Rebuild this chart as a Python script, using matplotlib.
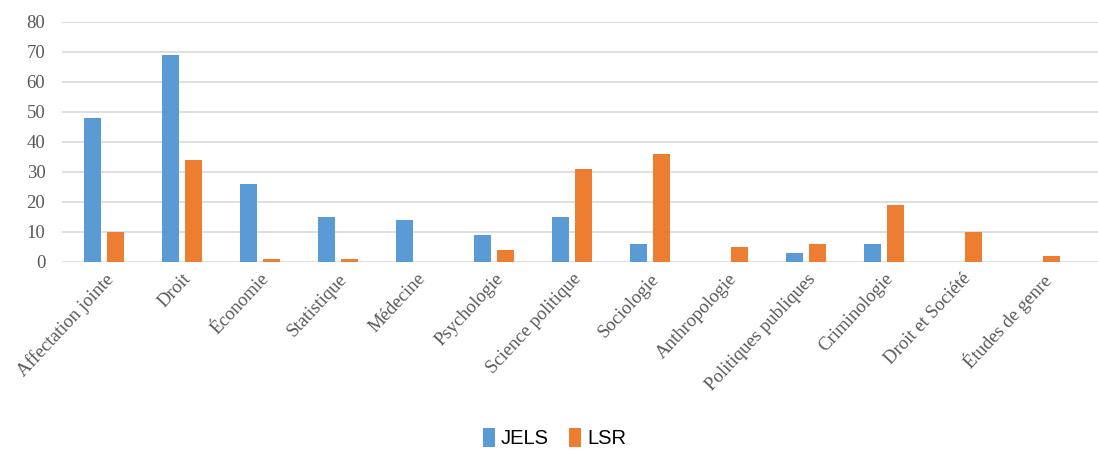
import numpy as np
import matplotlib.pyplot as plt

categories = ['Affectation jointe', 'Droit', 'Économie', 'Statistique', 'Médecine',
              'Psychologie', 'Science politique', 'Sociologie', 'Anthropologie',
              'Politiques publiques', 'Criminologie', 'Droit et Société', 'Études de genre']
jels = [48, 69, 26, 15, 14, 9, 15, 6, 0, 3, 6, 0, 0]
lsr = [10, 34, 1, 1, 0, 4, 31, 36, 5, 6, 19, 10, 2]

fig = plt.figure(figsize=(10.98, 4.5), dpi=100)
ax = fig.add_axes([62 / 1098, (450 - 262) / 450, 1 - 62 / 1098, 240 / 450])

x = np.arange(len(categories))
w = 0.22
ax.bar(x - 0.147, jels, w, color='#5B9BD5', label='JELS', zorder=3)
ax.bar(x + 0.147, lsr, w, color='#ED7D31', label='LSR', zorder=3)

ax.set_xlim(-0.54, 12.74)
ax.set_ylim(0, 80)
ax.set_yticks(range(0, 81, 10))
ax.grid(axis='y', color='#d9d9d9', linewidth=1.2, zorder=0)
for s in ax.spines.values():
    s.set_visible(False)
ax.tick_params(length=0)

ax.set_xticks(x)
ax.set_xticklabels(categories, rotation=47, ha='right', rotation_mode='anchor',
                   family='Liberation Serif', fontsize=13.5, color='#595959')
for lab in ax.get_yticklabels():
    lab.set_family('Liberation Serif')
    lab.set_fontsize(13.5)
    lab.set_color('#595959')
ax.tick_params(axis='x', pad=6)
ax.tick_params(axis='y', pad=12)

fig.legend(loc='center', bbox_to_anchor=(0.505, 1 - 438 / 450), ncol=2, frameon=False,
           prop={'family': 'Liberation Sans', 'size': 14.5}, handlelength=0.6,
           handleheight=1.1, handletextpad=0.3, columnspacing=1.0)

fig.savefig('out.png')
